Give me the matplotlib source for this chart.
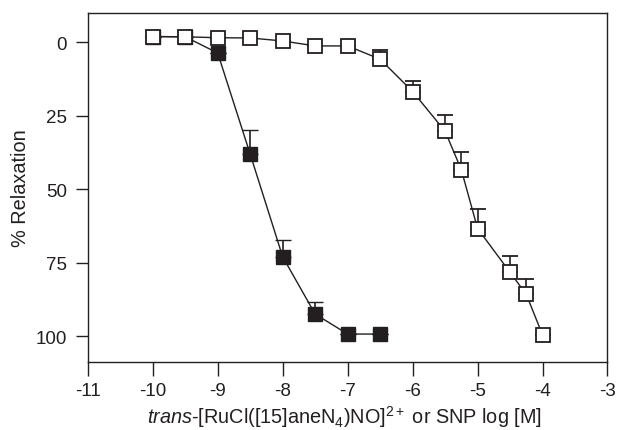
import numpy as np
import matplotlib
matplotlib.use("Agg")
import matplotlib.pyplot as plt

plt.rcParams['font.family'] = ['Liberation Sans', 'DejaVu Sans']
plt.rcParams['mathtext.fontset'] = 'custom'
plt.rcParams['mathtext.rm'] = 'Liberation Sans'
plt.rcParams['mathtext.it'] = 'Liberation Sans:italic'

# Datos (log [M] vs % relajación)
snp_x = [-10, -9.5, -9, -8.5, -8, -7.5, -7, -6.5, -6, -5.5, -5.25, -5, -4.5, -4.25, -4]
snp_y = [-2.0, -1.9, -1.6, -1.5, -0.5, 1.2, 1.2, 5.7, 16.7, 30.2, 43.3, 63.3, 78.2, 85.7, 99.5]
snp_err = [0, 0, 0, 0, 0, 0, 0, 3.2, 3.6, 5.5, 6.1, 6.8, 5.4, 5.2, 0]

ru_x = [-10, -9.5, -9, -8.5, -8, -7.5, -7, -6.5]
ru_y = [-2.0, -1.9, 3.6, 38.0, 72.9, 92.4, 99.2, 99.2]
ru_err = [0, 0, 0, 8.3, 5.8, 4.0, 0, 0]

xticks = [-11, -10, -9, -8, -7, -6, -5, -4, -3]
yticks = [0, 25, 50, 75, 100]

col = '#231f20'

fig = plt.figure(figsize=(6.18, 4.31), dpi=100, facecolor='w')
ax = fig.add_axes([0.142, 0.1585, 0.841, 0.809])

# Serie del complejo de rutenio (cuadrados llenos)
ax.errorbar(ru_x, ru_y, yerr=[ru_err, np.zeros(len(ru_err))],
            color=col, lw=1.0, marker='s', ms=10, mfc=col, mec=col, mew=1.0,
            ecolor=col, elinewidth=1.2, capsize=6, capthick=1.2, zorder=3)

# Serie SNP (cuadrados vacíos)
ax.errorbar(snp_x, snp_y, yerr=[snp_err, np.zeros(len(snp_err))],
            color=col, lw=1.0, marker='s', ms=10, mfc='white', mec=col, mew=1.3,
            ecolor=col, elinewidth=1.2, capsize=6, capthick=1.2, zorder=4)

ax.set_xlim(-11, -3)
ax.set_ylim(108.6, -10)
ax.set_xticks(xticks)
ax.set_yticks(yticks)
ax.set_xticklabels([str(t) for t in xticks])

for s in ax.spines.values():
    s.set_linewidth(1.0)
    s.set_color(col)

ax.tick_params(axis='both', which='major', direction='out', width=1.0,
               color=col, labelsize=13.5, labelcolor=col)
ax.tick_params(axis='x', length=10, pad=4.5)
ax.tick_params(axis='y', length=8.5, pad=6.5)

ax.set_ylabel('% Relaxation', fontsize=14.3, color=col)
ax.yaxis.set_label_coords(-0.111, 0.5)
ax.set_xlabel(r'$\it{trans}$-[RuCl([15]aneN$_{\mathregular{4}}$)NO]$^{\mathregular{2+}}$ or SNP log [M]',
              fontsize=14.3, color=col)
ax.xaxis.set_label_coords(0.494, -0.12)

fig.savefig('out.png', dpi=100, facecolor='w')
plt.close(fig)
